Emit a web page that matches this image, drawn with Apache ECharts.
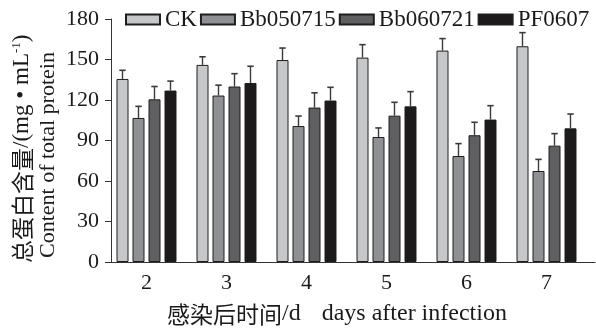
<!DOCTYPE html>
<html>
<head>
<meta charset="utf-8">
<script src="https://cdn.jsdelivr.net/npm/echarts@6/dist/echarts.min.js"></script>
<style>
html,body{margin:0;padding:0;background:#fff;}
#chart{width:596px;height:329px;}
</style>
</head>
<body>
<div id="chart"></div>
<script>
// ---- data ----
const days = ['2', '3', '4', '5', '6', '7'];
const seriesNames = ['CK', 'Bb050715', 'Bb060721', 'PF0607'];
const ckMean = [135.6, 146.0, 149.6, 151.4, 156.6, 159.8];
const ckErr = [6.4, 6.0, 8.9, 9.6, 8.9, 10.1];
const bb050715Mean = [106.7, 123.3, 100.7, 92.6, 78.5, 67.4];
const bb050715Err = [8.6, 7.7, 7.4, 6.7, 9.2, 8.6];
const bb060721Mean = [120.5, 130.0, 114.4, 108.4, 93.9, 86.2];
const bb060721Err = [9.5, 9.5, 10.9, 9.9, 9.6, 8.9];
const pf0607Mean = [127.0, 132.6, 119.6, 115.3, 105.5, 99.0];
const pf0607Err = [7.0, 12.4, 9.8, 10.9, 10.3, 10.6];
const yTicks = [0, 30, 60, 90, 120, 150, 180];

// ---- style ----
const means = [ckMean, bb050715Mean, bb060721Mean, pf0607Mean];
const errs = [ckErr, bb050715Err, bb060721Err, pf0607Err];
const colors = ['#c6c7c9', '#8f9093', '#5f5f61', '#1c1a1b'];
const SERIF = "'Liberation Serif','Times New Roman',serif";
const CJK = "'Noto Sans CJK SC',sans-serif";
const BAR_W = 12, BAR_GAP = 4;
const TXT = '#1a1a1a';

const chart = echarts.init(document.getElementById('chart'), null, {renderer: 'canvas'});

const barSeries = seriesNames.map((name, i) => ({
  name: name,
  type: 'bar',
  xAxisIndex: 0, yAxisIndex: 0,
  barWidth: BAR_W,
  barGap: (BAR_GAP / BAR_W * 100) + '%',
  data: means[i],
  itemStyle: {color: colors[i], borderColor: '#1e1e1e', borderWidth: 1},
  emphasis: {disabled: true},
  z: 2
}));

const errSeries = seriesNames.map((name, i) => ({
  name: name + '_err',
  type: 'custom',
  xAxisIndex: 0, yAxisIndex: 0,
  data: days.map((d, k) => [k, means[i][k], errs[i][k]]),
  z: 3,
  silent: true,
  renderItem: function (params, api) {
    const k = api.value(0), m = api.value(1), e = api.value(2);
    const base = api.coord([k, m]);
    const top = api.coord([k, m + e]);
    const n = seriesNames.length;
    const total = n * BAR_W + (n - 1) * BAR_GAP;
    const cx = base[0] - total / 2 + BAR_W / 2 + i * (BAR_W + BAR_GAP);
    const cap = 3.2;
    return {
      type: 'group',
      children: [
        {type: 'line', shape: {x1: cx, y1: base[1], x2: cx, y2: top[1]},
         style: {stroke: '#3a3a3a', lineWidth: 1.4}},
        {type: 'line', shape: {x1: cx - cap, y1: top[1], x2: cx + cap, y2: top[1]},
         style: {stroke: '#3a3a3a', lineWidth: 1.6}}
      ]
    };
  }
}));

const option = {
  animation: false,
  backgroundColor: '#fff',
  legend: {
    data: seriesNames,
    left: 125, top: 8,
    width: 471,
    padding: 0,
    icon: 'rect',
    itemWidth: 34, itemHeight: 10,
    itemGap: 3,
    textStyle: {fontFamily: SERIF, fontSize: 23, color: TXT},
    selectedMode: false
  },
  grid: [
    {left: 106.5, width: 480, top: 19, bottom: 67, containLabel: false},
    {left: 111, right: 1, top: 19, bottom: 67, containLabel: false}
  ],
  xAxis: [
    {
      type: 'category', gridIndex: 0, data: days,
      axisLine: {show: false},
      axisTick: {show: false},
      axisLabel: {fontFamily: SERIF, fontSize: 22, color: TXT, margin: 10}
    },
    {
      type: 'value', gridIndex: 1, min: 0, max: 1,
      axisLine: {show: true, lineStyle: {color: '#333', width: 1}},
      axisTick: {show: false}, axisLabel: {show: false}, splitLine: {show: false}
    }
  ],
  yAxis: [
    {
      type: 'value', gridIndex: 0,
      min: yTicks[0], max: yTicks[yTicks.length - 1], interval: yTicks[1] - yTicks[0],
      offset: -4.5,
      axisLine: {show: true, lineStyle: {color: '#333', width: 1}},
      axisTick: {show: true, length: 6, lineStyle: {color: '#333'}},
      axisLabel: {fontFamily: SERIF, fontSize: 22, color: TXT, margin: 12},
      splitLine: {show: false}
    },
    {type: 'value', gridIndex: 1, show: false}
  ],
  series: barSeries.concat(errSeries),
  graphic: [
    {
      type: 'text', x: 22, y: 263, rotation: Math.PI / 2,
      style: {
        text: '{cn|总蛋白含量}{en|/(mg • mL}{sup|-1}{en|)}',
        textAlign: 'left', textVerticalAlign: 'middle',
        rich: {
          cn: {fontFamily: CJK, fontSize: 23, fill: TXT},
          en: {fontFamily: SERIF, fontSize: 23, fill: TXT},
          sup: {fontFamily: SERIF, fontSize: 13, fill: TXT, verticalAlign: 'top'}
        }
      }
    },
    {
      type: 'text', x: 48, y: 258, rotation: Math.PI / 2,
      style: {
        text: 'Content of total protein',
        font: '22px ' + SERIF, fill: TXT,
        textAlign: 'left', textVerticalAlign: 'middle'
      }
    },
    {
      type: 'text', x: 167, y: 314,
      style: {
        text: '{cn|感染后时间}{en|/d}{gap| }{en|days after infection}',
        textAlign: 'left', textVerticalAlign: 'middle',
        rich: {
          cn: {fontFamily: CJK, fontSize: 23, fill: TXT},
          en: {fontFamily: SERIF, fontSize: 24, fill: TXT},
          gap: {fontFamily: SERIF, fontSize: 24, width: 21}
        }
      }
    }
  ]
};
chart.setOption(option);
</script>
</body>
</html>
